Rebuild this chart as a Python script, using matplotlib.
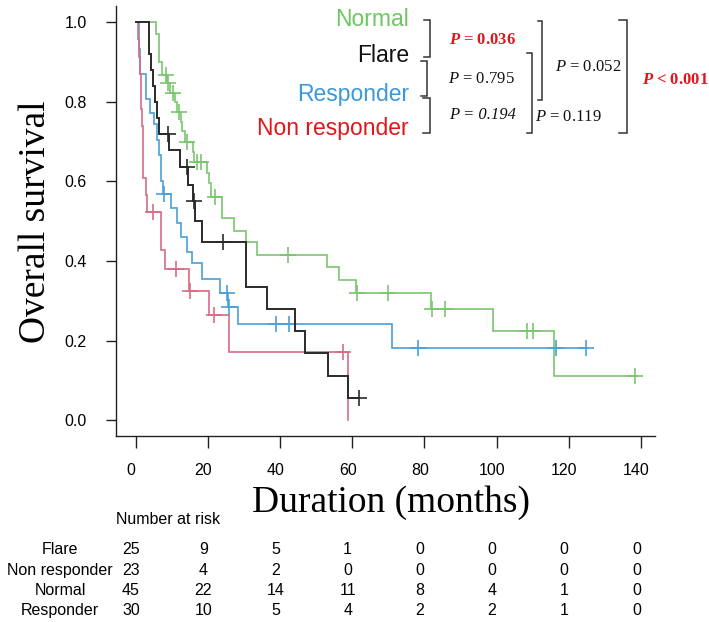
import numpy as np
import matplotlib
matplotlib.use("Agg")
import matplotlib.pyplot as plt
from matplotlib import transforms

# ---------------- data ----------------
groups = ["Normal", "Flare", "Responder", "Non responder"]

normal_t = [0, 5.6, 6.5, 7.3, 8.6, 9.6, 11.0, 11.5, 12.5, 13.0, 13.8, 16.0, 16.3, 19.8, 20.4, 21.0,
            24.0, 27.2, 30.6, 33.6, 52.9, 56.4, 61.1, 81.9, 99.0, 115.8]
normal_s = [1.0, 0.97, 0.90, 0.868, 0.846, 0.823, 0.80, 0.774, 0.75, 0.726, 0.70, 0.675, 0.648, 0.622,
            0.596, 0.56, 0.508, 0.476, 0.447, 0.415, 0.384, 0.352, 0.32, 0.28, 0.225, 0.111]
normal_cens = [8.3, 8.9, 10.3, 12.0, 14.2, 17.0, 18.2, 21.9, 42.2, 61.4, 70.0, 82.2, 85.8, 108.4, 110.0, 138.4]
normal_end = 139.0

flare_t = [0, 3.7, 4.3, 4.9, 5.5, 6.0, 6.5, 9.4, 12.4, 14.6, 15.8, 16.6, 18.3, 30.6, 36.5, 44.2, 46.9, 53.3, 58.8]
flare_s = [1.0, 0.92, 0.88, 0.84, 0.80, 0.76, 0.72, 0.68, 0.636, 0.59, 0.55, 0.50, 0.447, 0.335, 0.28,
           0.225, 0.168, 0.112, 0.056]
flare_cens = [9.0, 14.3, 16.3, 24.3, 62.0]
flare_end = 62.0

resp_t = [0, 0.9, 1.3, 2.9, 4.1, 5.1, 6.0, 6.5, 7.0, 7.5, 9.7, 11.5, 12.5, 14.3, 15.5, 18.4, 23.4, 25.5, 28.5, 71.0]
resp_s = [1.0, 0.933, 0.87, 0.806, 0.773, 0.743, 0.705, 0.667, 0.60, 0.567, 0.533, 0.495, 0.461, 0.423,
          0.394, 0.354, 0.320, 0.285, 0.242, 0.182]
resp_cens = [7.8, 25.2, 26.0, 39.0, 42.6, 78.2, 116.5, 124.7]
resp_end = 125.0

nonresp_t = [0, 0.8, 1.0, 1.2, 1.4, 1.6, 1.8, 2.0, 2.1, 2.2, 2.9, 3.1, 7.1, 8.1, 14.7, 20.3, 25.8, 58.8]
nonresp_s = [1.0, 0.957, 0.913, 0.870, 0.826, 0.783, 0.739, 0.696, 0.652, 0.609, 0.565, 0.522, 0.428,
             0.38, 0.324, 0.263, 0.172, 0.0]
nonresp_cens = [4.8, 11.3, 15.0, 21.8, 57.4]
nonresp_end = 58.8

x_ticks = [0, 20, 40, 60, 80, 100, 120, 140]
y_ticks = [0.0, 0.2, 0.4, 0.6, 0.8, 1.0]

risk_rows = ["Flare", "Non responder", "Normal", "Responder"]
flare_risk = [25, 9, 5, 1, 0, 0, 0, 0]
nonresp_risk = [23, 4, 2, 0, 0, 0, 0, 0]
normal_risk = [45, 22, 14, 11, 8, 4, 1, 0]
resp_risk = [30, 10, 5, 4, 2, 2, 1, 0]

p_labels = ["$P$ = 0.795", "P = 0.194", "$P$ = 0.052", "$P$ = 0.119"]
p_sig = ["$\\mathbfit{P}$ = 0.036", "$\\mathbfit{P}$ < 0.001"]

# ---------------- style ----------------
plt.rcParams["font.family"] = ["Liberation Sans", "DejaVu Sans"]
plt.rcParams["mathtext.fontset"] = "custom"
plt.rcParams["mathtext.rm"] = "Liberation Serif"
plt.rcParams["mathtext.it"] = "Liberation Serif:italic"
plt.rcParams["mathtext.bf"] = "Liberation Serif:bold"
try:
    plt.rcParams["mathtext.bfit"] = "Liberation Serif:italic:bold"
except KeyError:
    pass

c_green_line, c_green_txt = "#7cc56f", "#6cc760"
c_blue_line, c_blue_txt = "#4a9fd8", "#3a98dc"
c_pink_line, c_red_txt = "#d56d86", "#e0161c"
c_black = "#2a2a2a"
c_axis = "#222222"

W, H = 709, 622
fig = plt.figure(figsize=(W / 100, H / 100), dpi=100)

ax_l, ax_r, ax_t, ax_b = 115.7, 655.0, 6.3, 436.0
ax = fig.add_axes([ax_l / W, 1 - ax_b / H, (ax_r - ax_l) / W, (ax_b - ax_t) / H])
ax.set_xlim(-5.5, 143.9)
ax.set_ylim(-0.04, 1.04)
for sp in ["top", "right"]:
    ax.spines[sp].set_visible(False)
for sp in ["left", "bottom"]:
    ax.spines[sp].set_linewidth(1.0)
    ax.spines[sp].set_color(c_axis)

ax.set_yticks(y_ticks)
ax.set_yticklabels([f"{v:.1f}" for v in y_ticks])
ax.tick_params(axis="y", length=7.5, width=1.0, color=c_axis, pad=13.5, labelsize=11.5)
ax.set_xticks(x_ticks)
ax.set_xticklabels([])
ax.tick_params(axis="x", length=8.5, width=1.0, color=c_axis)


def draw_km(t, s, cens, end, color, lw):
    tt = list(t) + [end]
    ss = list(s) + [s[-1]]
    ax.step(tt, ss, where="post", color=color, lw=lw, solid_joinstyle="miter")
    t_arr = np.asarray(t)
    s_arr = np.asarray(s)
    idx = np.searchsorted(t_arr, np.asarray(cens), side="right") - 1
    ax.plot(cens, s_arr[idx], ls="none", marker="+", ms=11, mew=1.2, color=color)


draw_km(normal_t, normal_s, normal_cens, normal_end, c_green_line, 1.2)
draw_km(resp_t, resp_s, resp_cens, resp_end, c_blue_line, 1.2)
draw_km(nonresp_t, nonresp_s, nonresp_cens, nonresp_end, c_pink_line, 1.2)
draw_km(flare_t, flare_s, flare_cens, flare_end, c_black, 1.4)

# x tick labels and risk table (x in data units, y in figure pixels)
shift = transforms.ScaledTranslation(-4.5 / 100, 0, fig.dpi_scale_trans)
blend = transforms.blended_transform_factory(ax.transData, fig.transFigure) + shift


def fy(y):
    return 1 - y / H


for xt in x_ticks:
    ax.text(xt, fy(470.5), f"{xt}", transform=blend, ha="center", va="center", fontsize=11.5,
            clip_on=False)

risk_vals = [flare_risk, nonresp_risk, normal_risk, resp_risk]
row_y = [550, 570.3, 590.6, 610.8]
for name, vals, yy in zip(risk_rows, risk_vals, row_y):
    fig.text(60 / W, fy(yy), name, ha="center", va="center", fontsize=11.5)
    for xt, v in zip(x_ticks, vals):
        ax.text(xt, fy(yy), f"{v}", transform=blend, ha="center", va="center", fontsize=11.5,
                clip_on=False)

fig.text(115.7 / W, fy(520), "Number at risk", ha="left", va="center", fontsize=11.5)

# axis titles
fig.text(391 / W, fy(503), "Duration (months)", ha="center", va="center",
         family="Liberation Serif", fontsize=27)
fig.text(36 / W, fy(222), "Overall survival", ha="center", va="center", rotation=90,
         family="Liberation Serif", fontsize=27)

# overlay for legend labels, brackets and p-values (pixel coordinates)
ov = fig.add_axes([0, 0, 1, 1], facecolor="none")
ov.set_xlim(0, W)
ov.set_ylim(H, 0)
ov.axis("off")

legend_colors = [c_green_txt, "#111111", c_blue_txt, c_red_txt]
legend_y = [19, 55, 95, 129]
for name, col, yy in zip(groups, legend_colors, legend_y):
    ov.text(409, yy, name, color=col, ha="right", va="center", fontsize=16.5)


def bracket(x, y0, y1, arm):
    ov.plot([x - arm, x, x, x - arm], [y0, y0, y1, y1], color="#333333", lw=1.1,
            solid_joinstyle="miter")


bracket(430, 20, 57, 6)
bracket(427, 61, 96, 6)
bracket(430, 98, 133, 7)
bracket(531.7, 53, 133, 5)
bracket(541.7, 20.5, 100, 4)
bracket(626.7, 20, 133, 8)

ov.text(482, 39.5, p_sig[0], color=c_red_txt, ha="center", va="center", fontsize=12,
        family="Liberation Serif", fontweight="bold")
ov.text(675, 80, p_sig[1], color=c_red_txt, ha="center", va="center", fontsize=12,
        family="Liberation Serif", fontweight="bold")
ov.text(481, 79, p_labels[0], ha="center", va="center", fontsize=12, family="Liberation Serif",
        color="#111111")
ov.text(483, 115, p_labels[1], ha="center", va="center", fontsize=12, family="Liberation Serif",
        style="italic", color="#111111")
ov.text(588, 67, p_labels[2], ha="center", va="center", fontsize=12, family="Liberation Serif",
        color="#111111")
ov.text(568, 117, p_labels[3], ha="center", va="center", fontsize=12, family="Liberation Serif",
        color="#111111")

fig.savefig("out.png", dpi=100)
